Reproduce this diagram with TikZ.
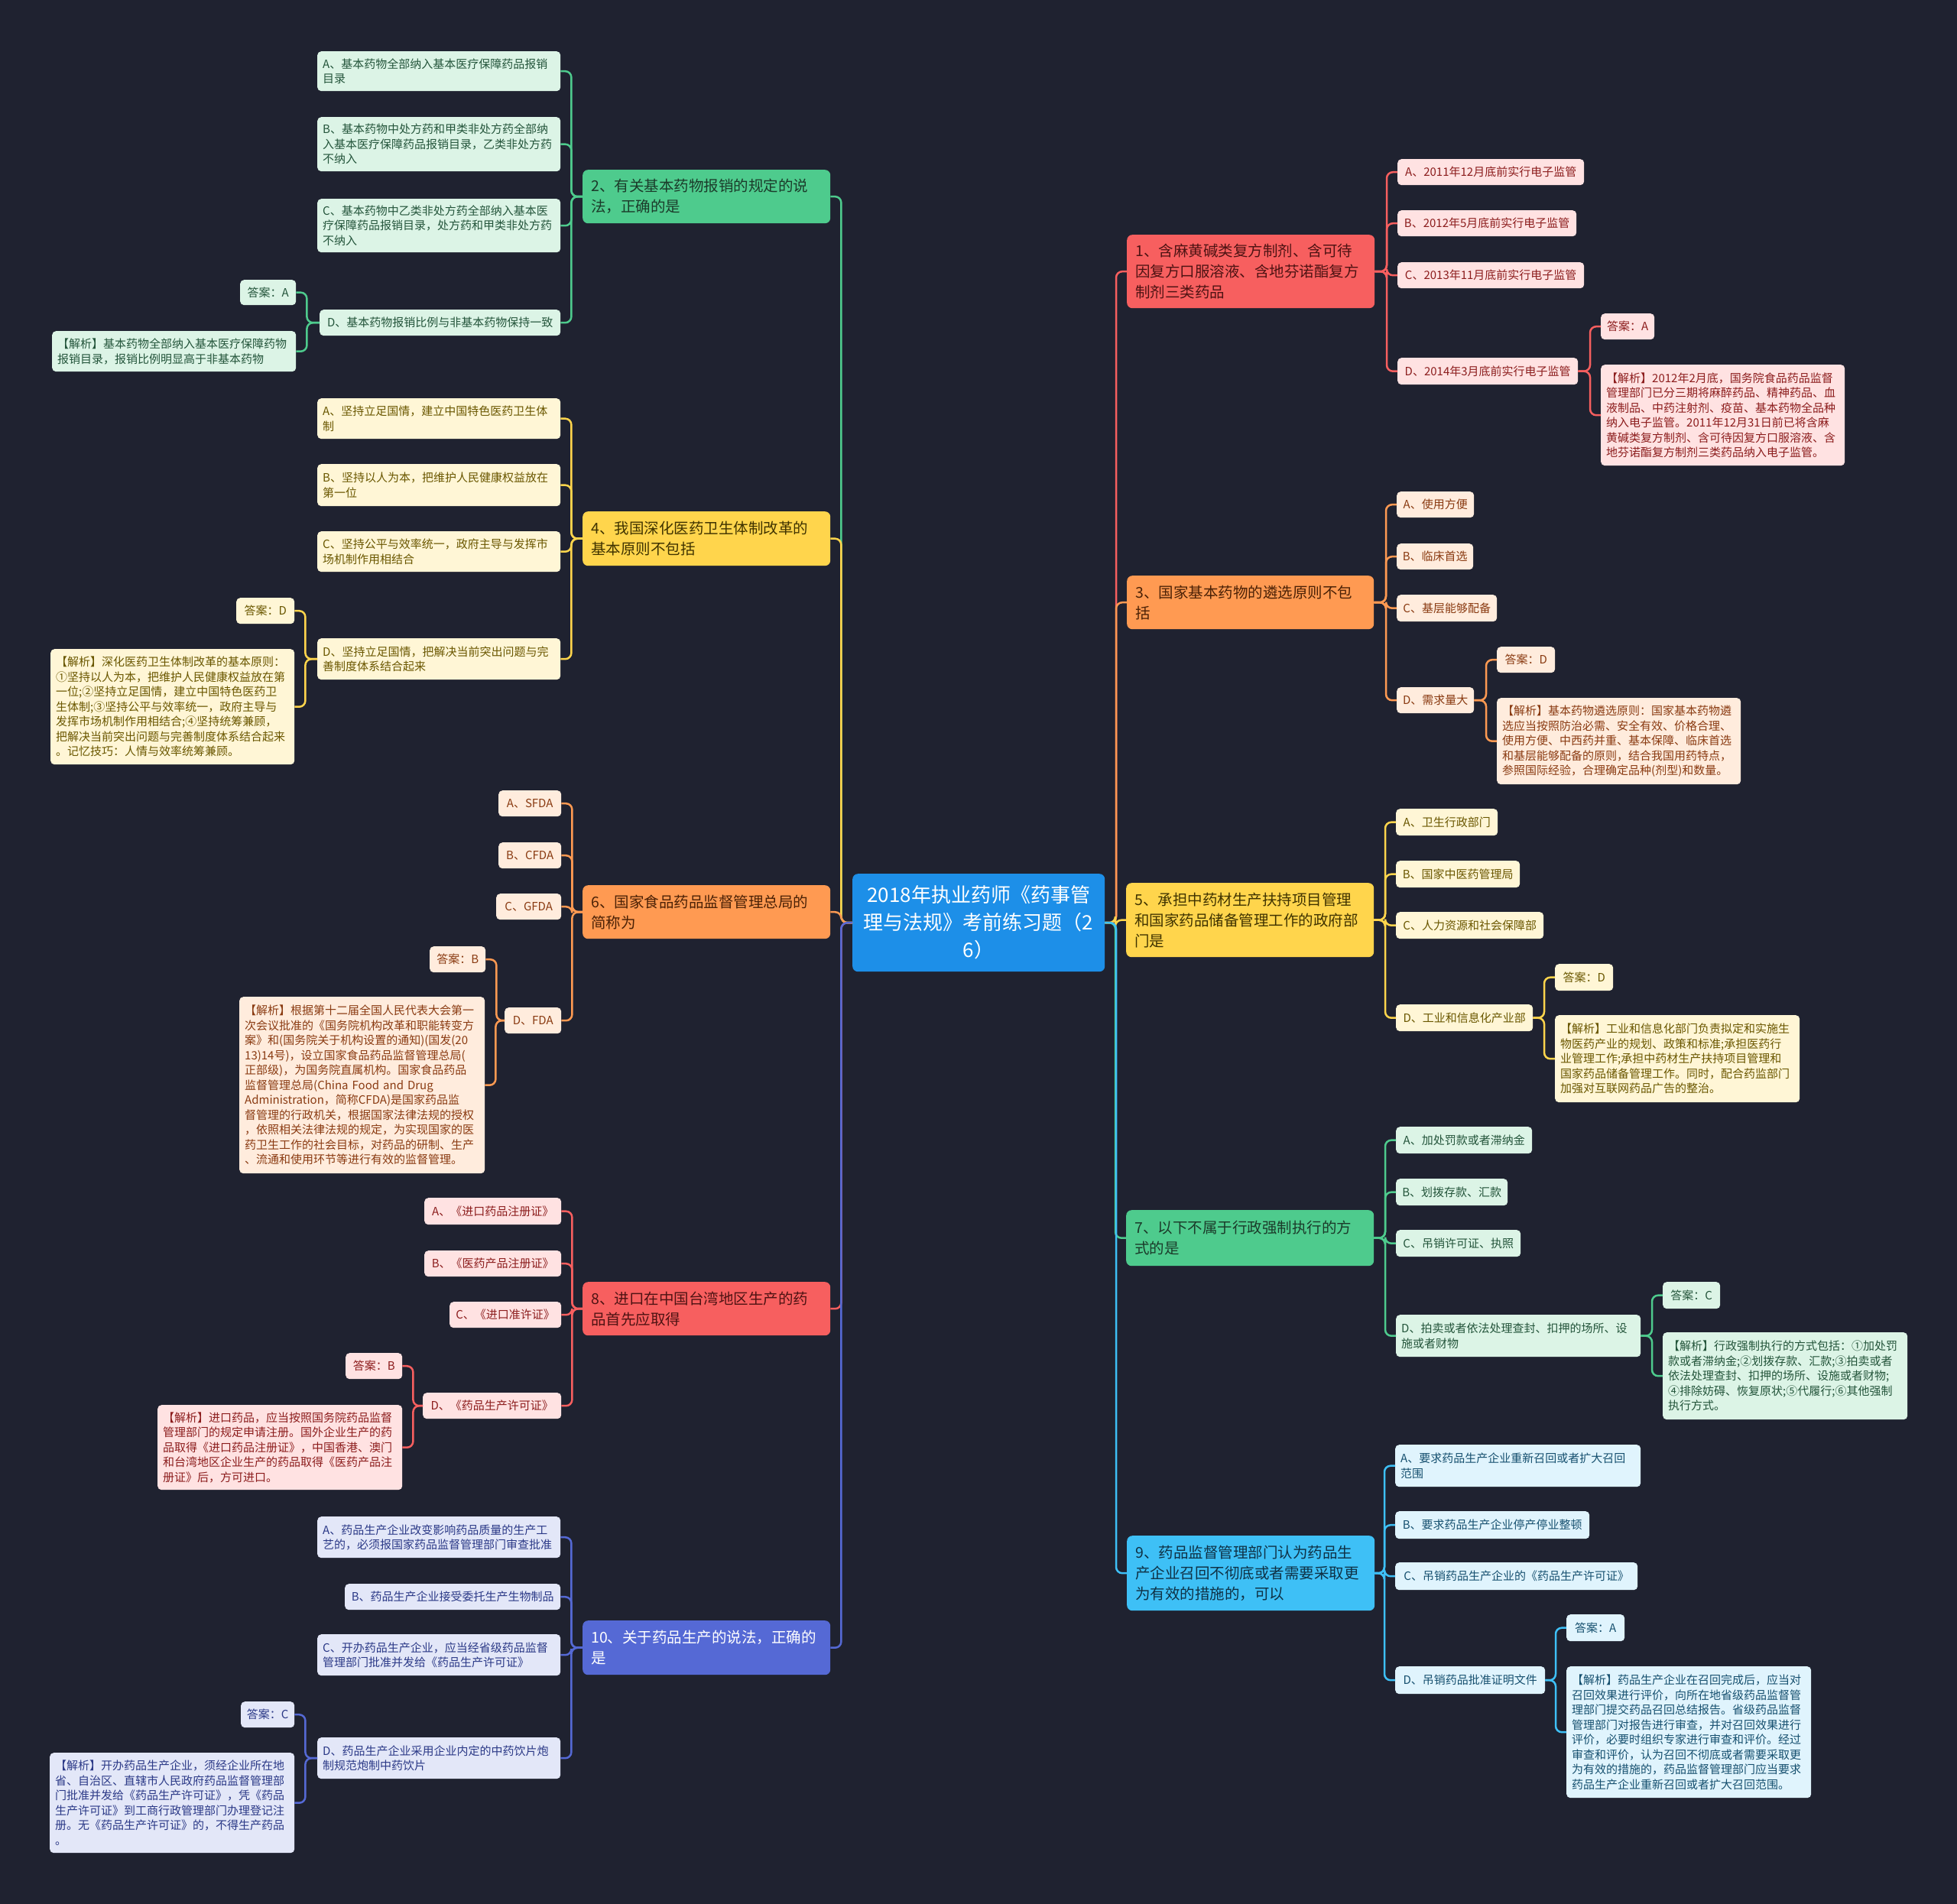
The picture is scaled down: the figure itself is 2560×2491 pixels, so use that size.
\documentclass[tikz,border=0pt]{standalone}
\usepackage{fontspec}
\setmainfont{Noto Sans CJK SC}
\usetikzlibrary{calc}
\definecolor{bgc}{HTML}{1F2230}
\definecolor{ctrf}{HTML}{1D8FE8}
\definecolor{bfG}{HTML}{4ECB8D}\definecolor{btG}{HTML}{1B3B2A}\definecolor{ofG}{HTML}{DCF4E6}\definecolor{otG}{HTML}{24553B}
\definecolor{bfY}{HTML}{FFD54C}\definecolor{btY}{HTML}{3F3300}\definecolor{ofY}{HTML}{FFF6D6}\definecolor{otY}{HTML}{6A5700}
\definecolor{bfO}{HTML}{FF9A52}\definecolor{btO}{HTML}{4A2106}\definecolor{ofO}{HTML}{FFECDD}\definecolor{otO}{HTML}{8A3B12}
\definecolor{bfR}{HTML}{F75F5F}\definecolor{btR}{HTML}{4E1313}\definecolor{ofR}{HTML}{FFE2E2}\definecolor{otR}{HTML}{8C1D1D}
\definecolor{bfI}{HTML}{5569D5}\definecolor{btI}{HTML}{FFFFFF}\definecolor{ofI}{HTML}{E3E7F8}\definecolor{otI}{HTML}{2B3987}
\definecolor{bfB}{HTML}{3EC0F6}\definecolor{btB}{HTML}{0F3145}\definecolor{ofB}{HTML}{E0F4FD}\definecolor{otB}{HTML}{16506F}
\tikzset{
  ob/.style={rounded corners=5pt, inner ysep=0pt, align=left, font=\fontsize{15}{19.5}\selectfont},
  bb/.style={rounded corners=7pt, inner ysep=0pt, align=left, font=\fontsize{19.5}{27}\selectfont},
  ln/.style={line width=2.5pt, rounded corners=8pt},
}
\newcommand\nbox[8]{%
  \pgfmathsetlengthmacro\boxtw{#5pt-2*#7pt}%
  \node[#1, inner xsep=#7pt, text width=\boxtw, minimum height=#6pt, anchor=north west] (#2) at (#3,#4) {#8};}
\newcommand\qopt[7]{\nbox{ob, fill=of#1, text=ot#1}{#2}{#3}{#4}{#5}{#6}{7}{#7}}
\newcommand\qone[7]{\nbox{ob, align=center, fill=of#1, text=ot#1}{#2}{#3}{#4}{#5}{#6}{7}{#7}}
\newcommand\qbr[7]{\nbox{bb, fill=bf#1, text=bt#1}{#2}{#3}{#4}{#5}{#6}{11}{#7}}
\newcommand\rlink[3]{\draw[ln, bf#1] (#2.east) -| ([xshift=-14pt]#3.west) -- (#3.west);}
\newcommand\llink[3]{\draw[ln, bf#1] (#2.west) -| ([xshift=14pt]#3.east) -- (#3.east);}
\begin{document}
\begin{tikzpicture}[x=1pt,y=-1pt]
\fill[bgc] (0,0) rectangle (2560,2491);
\useasboundingbox (0,0) rectangle (2560,2491);

% centre
\node[anchor=north west, fill=ctrf, text=white, rounded corners=7pt, align=center, text width=310pt, inner xsep=10pt, inner ysep=0pt, minimum height=128pt, font=\fontsize{26}{36}\selectfont] (ctr) at (1115,1143) {2018年执业药师《药事管\\理与法规》考前练习题（2\\6）};

% ---------- Q2 ----------
\qbr{G}{q2}{762}{222}{324}{70}{2、有关基本药物报销的规定的说\\法，正确的是}
\qopt{G}{q2a}{415}{67}{318}{52}{A、基本药物全部纳入基本医疗保障药品报销\\目录}
\qopt{G}{q2b}{415}{153}{318}{71}{B、基本药物中处方药和甲类非处方药全部纳\\入基本医疗保障药品报销目录，乙类非处方药\\不纳入}
\qopt{G}{q2c}{415}{260}{318}{70}{C、基本药物中乙类非处方药全部纳入基本医\\疗保障药品报销目录，处方药和甲类非处方药\\不纳入}
\qone{G}{q2d}{418}{405}{315}{34}{D、基本药物报销比例与非基本药物保持一致}
\qone{G}{q2s}{314}{366}{73}{33}{答案：A}
\qopt{G}{q2x}{68}{433}{319}{53}{【解析】基本药物全部纳入基本医疗保障药物\\报销目录，报销比例明显高于非基本药物}

% ---------- Q4 ----------
\qbr{Y}{q4}{762}{669}{324}{71}{4、我国深化医药卫生体制改革的\\基本原则不包括}
\qopt{Y}{q4a}{415}{521}{318}{53}{A、坚持立足国情，建立中国特色医药卫生体\\制}
\qopt{Y}{q4b}{415}{607}{318}{55}{B、坚持以人为本，把维护人民健康权益放在\\第一位}
\qopt{Y}{q4c}{415}{695}{318}{53}{C、坚持公平与效率统一，政府主导与发挥市\\场机制作用相结合}
\qopt{Y}{q4d}{415}{835}{318}{54}{D、坚持立足国情，把解决当前突出问题与完\\善制度体系结合起来}
\qone{Y}{q4s}{309}{782}{76}{34}{答案：D}
\qopt{Y}{q4x}{66}{849}{319}{151}{【解析】深化医药卫生体制改革的基本原则：\\①坚持以人为本，把维护人民健康权益放在第\\一位;②坚持立足国情，建立中国特色医药卫\\生体制;③坚持公平与效率统一，政府主导与\\发挥市场机制作用相结合;④坚持统筹兼顾，\\把解决当前突出问题与完善制度体系结合起来\\。记忆技巧：人情与效率统筹兼顾。}

% ---------- Q6 ----------
\qbr{O}{q6}{762}{1158}{324}{70}{6、国家食品药品监督管理总局的\\简称为}
\qone{O}{q6a}{652}{1034}{82}{34}{A、SFDA}
\qone{O}{q6b}{652}{1102}{82}{34}{B、CFDA}
\qone{O}{q6c}{649}{1169}{85}{34}{C、GFDA}
\qone{O}{q6d}{660}{1318}{74}{34}{D、FDA}
\qone{O}{q6s}{562}{1238}{73}{34}{答案：B}
\qopt{O}{q6x}{313}{1304}{321}{231}{【解析】根据第十二届全国人民代表大会第一\\次会议批准的《国务院机构改革和职能转变方\\案》和(国务院关于机构设置的通知)(国发(20\\13)14号)，设立国家食品药品监督管理总局(\\正部级)，为国务院直属机构。国家食品药品\\监督管理总局(China Food and Drug\\Administration，简称CFDA)是国家药品监\\督管理的行政机关，根据国家法律法规的授权\\，依照相关法律法规的规定，为实现国家的医\\药卫生工作的社会目标，对药品的研制、生产\\、流通和使用环节等进行有效的监督管理。}

% ---------- Q8 ----------
\qbr{R}{q8}{762}{1677}{324}{70}{8、进口在中国台湾地区生产的药\\品首先应取得}
\qone{R}{q8a}{555}{1567}{179}{35}{A、《进口药品注册证》}
\qone{R}{q8b}{555}{1636}{179}{34}{B、《医药产品注册证》}
\qone{R}{q8c}{588}{1703}{146}{34}{C、《进口准许证》}
\qone{R}{q8d}{553}{1822}{181}{34}{D、《药品生产许可证》}
\qone{R}{q8s}{452}{1770}{74}{34}{答案：B}
\qopt{R}{q8x}{206}{1838}{320}{111}{【解析】进口药品，应当按照国务院药品监督\\管理部门的规定申请注册。国外企业生产的药\\品取得《进口药品注册证》，中国香港、澳门\\和台湾地区企业生产的药品取得《医药产品注\\册证》后，方可进口。}

% ---------- Q10 ----------
\qbr{I}{q10}{762}{2120}{324}{71}{10、关于药品生产的说法，正确的\\是}
\qopt{I}{q10a}{415}{1984}{318}{54}{A、药品生产企业改变影响药品质量的生产工\\艺的，必须报国家药品监督管理部门审查批准}
\qone{I}{q10b}{451}{2072}{282}{34}{B、药品生产企业接受委托生产生物制品}
\qopt{I}{q10c}{415}{2138}{318}{54}{C、开办药品生产企业，应当经省级药品监督\\管理部门批准并发给《药品生产许可证》}
\qopt{I}{q10d}{415}{2273}{318}{54}{D、药品生产企业采用企业内定的中药饮片炮\\制规范炮制中药饮片}
\qone{I}{q10s}{315}{2226}{70}{34}{答案：C}
\qopt{I}{q10x}{65}{2293}{320}{131}{【解析】开办药品生产企业，须经企业所在地\\省、自治区、直辖市人民政府药品监督管理部\\门批准并发给《药品生产许可证》，凭《药品\\生产许可证》到工商行政管理部门办理登记注\\册。无《药品生产许可证》的，不得生产药品\\。}

% ---------- Q1 ----------
\qbr{R}{q1}{1474}{307}{324}{96}{1、含麻黄碱类复方制剂、含可待\\因复方口服溶液、含地芬诺酯复方\\制剂三类药品}
\qone{R}{q1a}{1828}{208}{244}{34}{A、2011年12月底前实行电子监管}
\qone{R}{q1b}{1828}{275}{234}{34}{B、2012年5月底前实行电子监管}
\qone{R}{q1c}{1828}{343}{244}{34}{C、2013年11月底前实行电子监管}
\qone{R}{q1d}{1828}{468}{236}{35}{D、2014年3月底前实行电子监管}
\qone{R}{q1s}{2094}{410}{70}{34}{答案：A}
\qopt{R}{q1x}{2094}{477}{319}{132}{【解析】2012年2月底，国务院食品药品监督\\管理部门已分三期将麻醉药品、精神药品、血\\液制品、中药注射剂、疫苗、基本药物全品种\\纳入电子监管。2011年12月31日前已将含麻\\黄碱类复方制剂、含可待因复方口服溶液、含\\地芬诺酯复方制剂三类药品纳入电子监管。}

% ---------- Q3 ----------
\qbr{O}{q3}{1474}{753}{323}{70}{3、国家基本药物的遴选原则不包\\括}
\qone{O}{q3a}{1827}{643}{101}{34}{A、使用方便}
\qone{O}{q3b}{1827}{711}{100}{34}{B、临床首选}
\qone{O}{q3c}{1827}{778}{131}{35}{C、基层能够配备}
\qone{O}{q3d}{1827}{899}{101}{34}{D、需求量大}
\qone{O}{q3s}{1958}{846}{76}{34}{答案：D}
\qopt{O}{q3x}{1958}{913}{319}{113}{【解析】基本药物遴选原则：国家基本药物遴\\选应当按照防治必需、安全有效、价格合理、\\使用方便、中西药并重、基本保障、临床首选\\和基层能够配备的原则，结合我国用药特点，\\参照国际经验，合理确定品种(剂型)和数量。}

% ---------- Q5 ----------
\qbr{Y}{q5}{1473}{1155}{324}{97}{5、承担中药材生产扶持项目管理\\和国家药品储备管理工作的政府部\\门是}
\qone{Y}{q5a}{1826}{1058}{133}{35}{A、卫生行政部门}
\qone{Y}{q5b}{1826}{1126}{162}{35}{B、国家中医药管理局}
\qone{Y}{q5c}{1826}{1193}{193}{35}{C、人力资源和社会保障部}
\qone{Y}{q5d}{1826}{1314}{179}{35}{D、工业和信息化产业部}
\qone{Y}{q5s}{2034}{1261}{76}{35}{答案：D}
\qopt{Y}{q5x}{2034}{1328}{320}{114}{【解析】工业和信息化部门负责拟定和实施生\\物医药产业的规划、政策和标准;承担医药行\\业管理工作;承担中药材生产扶持项目管理和\\国家药品储备管理工作。同时，配合药监部门\\加强对互联网药品广告的整治。}

% ---------- Q7 ----------
\qbr{G}{q7}{1473}{1583}{324}{73}{7、以下不属于行政强制执行的方\\式的是}
\qone{G}{q7a}{1826}{1474}{178}{35}{A、加处罚款或者滞纳金}
\qone{G}{q7b}{1826}{1542}{146}{35}{B、划拨存款、汇款}
\qone{G}{q7c}{1826}{1609}{163}{35}{C、吊销许可证、执照}
\qopt{G}{q7d}{1826}{1720}{320}{55}{D、拍卖或者依法处理查封、扣押的场所、设\\施或者财物}
\qone{G}{q7s}{2175}{1677}{75}{35}{答案：C}
\qopt{G}{q7x}{2175}{1743}{320}{114}{【解析】行政强制执行的方式包括：①加处罚\\款或者滞纳金;②划拨存款、汇款;③拍卖或者\\依法处理查封、扣押的场所、设施或者财物;\\④排除妨碍、恢复原状;⑤代履行;⑥其他强制\\执行方式。}

% ---------- Q9 ----------
\qbr{B}{q9}{1474}{2009}{324}{98}{9、药品监督管理部门认为药品生\\产企业召回不彻底或者需要采取更\\为有效的措施的，可以}
\qopt{B}{q9a}{1825}{1890}{321}{55}{A、要求药品生产企业重新召回或者扩大召回\\范围}
\qone{B}{q9b}{1825}{1977}{254}{36}{B、要求药品生产企业停产停业整顿}
\qone{B}{q9c}{1825}{2044}{317}{36}{C、吊销药品生产企业的《药品生产许可证》}
\qone{B}{q9d}{1825}{2180}{196}{36}{D、吊销药品批准证明文件}
\qone{B}{q9s}{2049}{2112}{76}{35}{答案：A}
\qopt{B}{q9x}{2049}{2180}{320}{172}{【解析】药品生产企业在召回完成后，应当对\\召回效果进行评价，向所在地省级药品监督管\\理部门提交药品召回总结报告。省级药品监督\\管理部门对报告进行审查，并对召回效果进行\\评价，必要时组织专家进行审查和评价。经过\\审查和评价，认为召回不彻底或者需要采取更\\为有效的措施的，药品监督管理部门应当要求\\药品生产企业重新召回或者扩大召回范围。}

% ---------- connectors ----------
\llink{G}{ctr}{q2}\llink{Y}{ctr}{q4}\llink{O}{ctr}{q6}\llink{R}{ctr}{q8}\llink{I}{ctr}{q10}
\rlink{R}{ctr}{q1}\rlink{O}{ctr}{q3}\rlink{Y}{ctr}{q5}\rlink{G}{ctr}{q7}\rlink{B}{ctr}{q9}

\llink{G}{q2}{q2a}\llink{G}{q2}{q2b}\llink{G}{q2}{q2c}\llink{G}{q2}{q2d}\llink{G}{q2d}{q2s}\llink{G}{q2d}{q2x}
\llink{Y}{q4}{q4a}\llink{Y}{q4}{q4b}\llink{Y}{q4}{q4c}\llink{Y}{q4}{q4d}\llink{Y}{q4d}{q4s}\llink{Y}{q4d}{q4x}
\llink{O}{q6}{q6a}\llink{O}{q6}{q6b}\llink{O}{q6}{q6c}\llink{O}{q6}{q6d}\llink{O}{q6d}{q6s}\llink{O}{q6d}{q6x}
\llink{R}{q8}{q8a}\llink{R}{q8}{q8b}\llink{R}{q8}{q8c}\llink{R}{q8}{q8d}\llink{R}{q8d}{q8s}\llink{R}{q8d}{q8x}
\llink{I}{q10}{q10a}\llink{I}{q10}{q10b}\llink{I}{q10}{q10c}\llink{I}{q10}{q10d}\llink{I}{q10d}{q10s}\llink{I}{q10d}{q10x}

\rlink{R}{q1}{q1a}\rlink{R}{q1}{q1b}\rlink{R}{q1}{q1c}\rlink{R}{q1}{q1d}\rlink{R}{q1d}{q1s}\rlink{R}{q1d}{q1x}
\rlink{O}{q3}{q3a}\rlink{O}{q3}{q3b}\rlink{O}{q3}{q3c}\rlink{O}{q3}{q3d}\rlink{O}{q3d}{q3s}\rlink{O}{q3d}{q3x}
\rlink{Y}{q5}{q5a}\rlink{Y}{q5}{q5b}\rlink{Y}{q5}{q5c}\rlink{Y}{q5}{q5d}\rlink{Y}{q5d}{q5s}\rlink{Y}{q5d}{q5x}
\rlink{G}{q7}{q7a}\rlink{G}{q7}{q7b}\rlink{G}{q7}{q7c}\rlink{G}{q7}{q7d}\rlink{G}{q7d}{q7s}\rlink{G}{q7d}{q7x}
\rlink{B}{q9}{q9a}\rlink{B}{q9}{q9b}\rlink{B}{q9}{q9c}\rlink{B}{q9}{q9d}\rlink{B}{q9d}{q9s}\rlink{B}{q9d}{q9x}
\end{tikzpicture}
\end{document}
